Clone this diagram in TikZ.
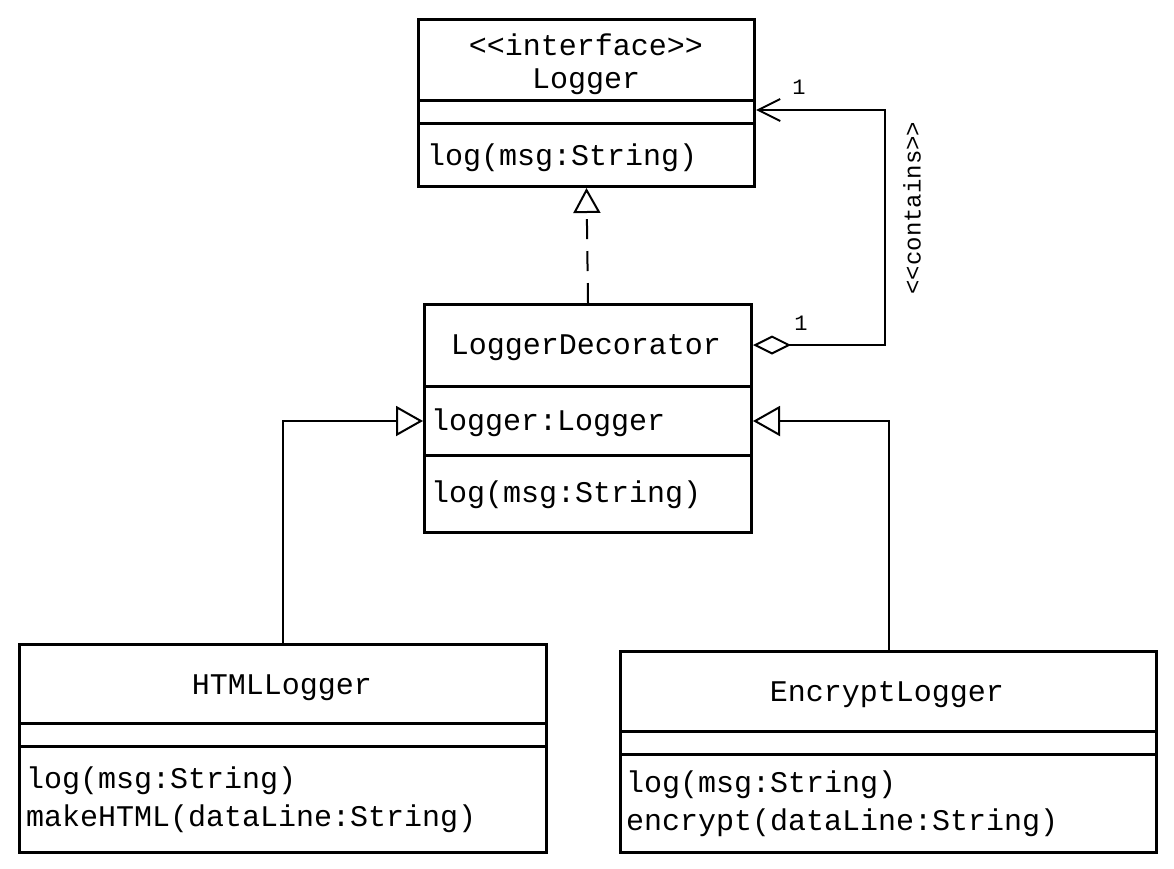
\documentclass[tikz,border=0pt]{standalone}
\usepackage{fontspec}
\setmonofont{Liberation Mono}
\usetikzlibrary{arrows.meta}
\begin{document}
\begin{tikzpicture}[x=1pt, y=-1pt,
    classbox/.style={draw, line width=3pt, inner sep=0pt, anchor=north west},
    divider/.style={line width=3pt},
    classname/.style={inner sep=0pt, font=\ttfamily\fontsize{30}{36}\selectfont},
    member/.style={anchor=west, inner sep=0pt, font=\ttfamily\fontsize{30}{36}\selectfont},
    link/.style={line width=2pt},
    mult/.style={inner sep=0pt, font=\ttfamily\fontsize{22}{26}\selectfont},
    stereo/.style={inner sep=0pt, font=\ttfamily\fontsize{24}{28}\selectfont}]
  \useasboundingbox (0,0) rectangle (1174,868);

  % classes
  \node[classbox, minimum width=336pt, minimum height=167pt] (logger) at (417,18) {};
  \node[classbox, minimum width=327pt, minimum height=228pt] (dec) at (423,303) {};
  \node[classbox, minimum width=527pt, minimum height=208pt] (html) at (18,643) {};
  \node[classbox, minimum width=536pt, minimum height=201pt] (enc) at (619,650) {};

  % compartments
  \draw[divider] (logger.west |- 0,100) -- (logger.east |- 0,100);
  \draw[divider] (logger.west |- 0,123) -- (logger.east |- 0,123);
  \draw[divider] (dec.west |- 0,386) -- (dec.east |- 0,386);
  \draw[divider] (dec.west |- 0,455) -- (dec.east |- 0,455);
  \draw[divider] (html.west |- 0,723) -- (html.east |- 0,723);
  \draw[divider] (html.west |- 0,746) -- (html.east |- 0,746);
  \draw[divider] (enc.west |- 0,731) -- (enc.east |- 0,731);
  \draw[divider] (enc.west |- 0,754) -- (enc.east |- 0,754);

  % texts
  \node[classname] (loggerstereo) at (586,45) {<<interface>>};
  \node[classname] (loggername) at (586,82) {Logger};
  \node[member] (loggerop) at (427,158) {log(msg:String)};
  \node[classname] (decname) at (586,348) {LoggerDecorator};
  \node[member] (decattr) at (431,423) {logger:Logger};
  \node[member] (decop) at (431,495) {log(msg:String)};
  \node[classname] (htmlname) at (282,688) {HTMLLogger};
  \node[member] (htmlop) at (26,781) {log(msg:String)};
  \node[member] (htmlmake) at (26,819) {makeHTML(dataLine:String)};
  \node[classname] (encname) at (887,695) {EncryptLogger};
  \node[member] (encop) at (626,785) {log(msg:String)};
  \node[member] (encrypt) at (626,823) {encrypt(dataLine:String)};

  % relations
  \draw[link, dash pattern=on 20pt off 12pt, -{Triangle[open, length=25pt, width=27pt]}] (dec.north) -- (logger.south);
  \coordinate (aggA) at (885,345);
  \coordinate (aggB) at (885,110);
  \draw[link, {Diamond[open, length=38pt, width=19pt]}-{Straight Barb[length=22pt, width=22pt]}]
    (dec.east |- aggA) -- (aggA) -- (aggB) -- (logger.east |- aggB);
  \node[mult] (multtop) at (799,87) {1};
  \node[mult] (multbot) at (801,323) {1};
  \node[stereo, rotate=90] (contains) at (912,208) {<<contains>>};
  \draw[link, -{Triangle[open, length=27pt, width=30pt]}] (html.north) |- (dec.west |- 0,421);
  \draw[link, -{Triangle[open, length=27pt, width=30pt]}] (enc.north) |- (dec.east |- 0,421);
\end{tikzpicture}
\end{document}
